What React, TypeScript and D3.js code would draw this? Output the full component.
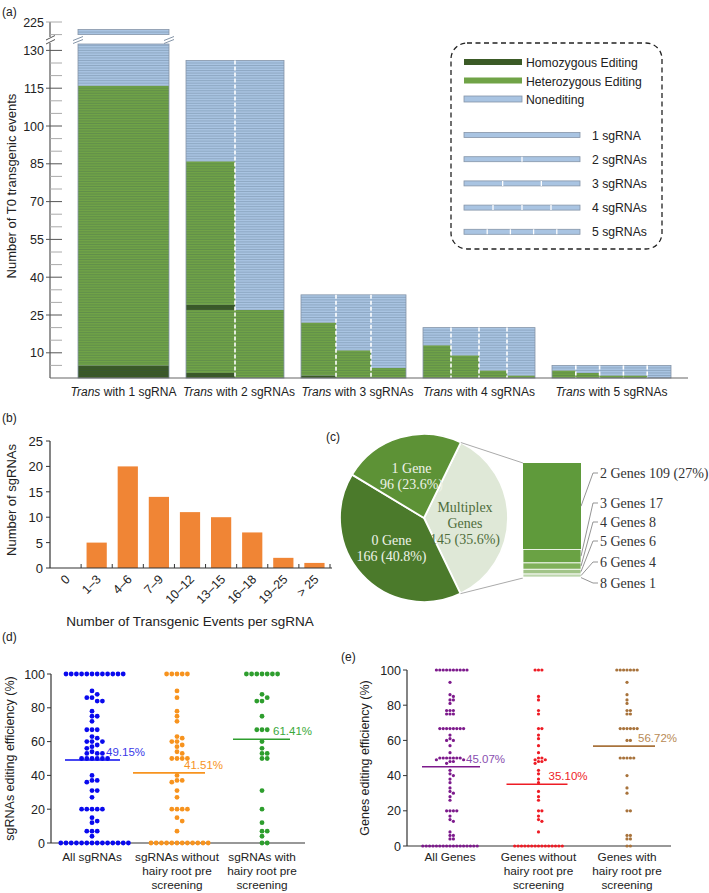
import React from "react";
import * as d3 from "d3";

const FONT = "'Liberation Sans', Arial, Helvetica, sans-serif";
const SERIF = "'Liberation Serif', 'Times New Roman', serif";

// ---------------- Panel (a) data ----------------
const aGroups = ["1 sgRNA", "2 sgRNAs", "3 sgRNAs", "4 sgRNAs", "5 sgRNAs"];
const aSgCount = [1, 2, 3, 4, 5];
const trans1: [string, number][][] = [[["Homozygous", 5], ["Heterozygous", 111], ["Nonediting", 106]]];
const trans2: [string, number][][] = [
  [["Homozygous", 2], ["Heterozygous", 25], ["Homozygous", 2], ["Heterozygous", 57], ["Nonediting", 40]],
  [["Heterozygous", 27], ["Nonediting", 99]],
];
const trans3: [string, number][][] = [
  [["Homozygous", 1], ["Heterozygous", 21], ["Nonediting", 11]],
  [["Heterozygous", 11], ["Nonediting", 22]],
  [["Heterozygous", 4], ["Nonediting", 29]],
];
const trans4: [string, number][][] = [
  [["Heterozygous", 13], ["Nonediting", 7]],
  [["Heterozygous", 9], ["Nonediting", 11]],
  [["Heterozygous", 3], ["Nonediting", 17]],
  [["Heterozygous", 1], ["Nonediting", 19]],
];
const trans5: [string, number][][] = [
  [["Heterozygous", 3], ["Nonediting", 2]],
  [["Heterozygous", 2], ["Nonediting", 3]],
  [["Heterozygous", 1], ["Nonediting", 4]],
  [["Heterozygous", 1], ["Nonediting", 4]],
  [["Nonediting", 5]],
];
const aYTicks = [10, 25, 40, 55, 70, 85, 100, 115, 130];
const aTopTicks = [225];
const aLegend = ["Homozygous  Editing", "Heterozygous Editing", "Nonediting"];
const aLegendTypes = ["Homozygous", "Heterozygous", "Nonediting"];
const aLegendSg = ["1 sgRNA", "2 sgRNAs", "3 sgRNAs", "4 sgRNAs", "5 sgRNAs"];

// ---------------- Panel (b) data ----------------
const bCategories = ["0", "1–3", "4–6", "7–9", "10–12", "13–15", "16–18", "19–25", "> 25"];
const bCounts = [0, 5, 20, 14, 11, 10, 7, 2, 1];
const bYTicks = [0, 5, 10, 15, 20, 25];

// ---------------- Panel (c) data ----------------
const cSlices = ["Multiplex Genes", "0 Gene", "1 Gene"];
const cValues = [145, 166, 96];
const cPercents = ["35.6%", "40.8%", "23.6%"];
const cMultiLabels = ["2 Genes", "3 Genes", "4 Genes", "5 Genes", "6 Genes", "8 Genes"];
const cMultiValues = [109, 17, 8, 6, 4, 1];
const cMultiNotes = [" (27%)", "", "", "", "", ""];

// ---------------- Panel (d) data ----------------
const dGroups = ["All sgRNAs", "sgRNAs without hairy root pre screening", "sgRNAs with hairy root pre screening"];
const dWithout = [100, 100, 100, 100, 100, 90, 86, 78, 75, 72, 63, 62, 60, 60, 58, 57, 54, 53, 50, 50, 50, 50, 40, 37, 37, 36, 31, 27, 20, 20, 20, 20, 15, 13, 7, 0, 0, 0, 0, 0, 0, 0, 0, 0, 0, 0, 0];
const dWith = [100, 100, 100, 100, 100, 100, 100, 88, 86, 84, 84, 75, 67, 67, 67, 60, 56, 53, 53, 50, 50, 31, 20, 12, 7, 7, 4, 0, 0];
const dMeans = [49.15, 41.51, 61.41];

// ---------------- Panel (e) data ----------------
const eGroups = ["All Genes", "Genes without hairy root pre screening", "Genes with hairy root pre screening"];
const eWithout = [100, 100, 100, 85, 83, 77, 75, 66.7, 66.7, 63, 61, 57, 53, 50, 50, 49, 49, 48, 48, 47, 43, 41, 38, 36, 31, 28, 26, 20, 20, 17, 15, 14, 8, 0, 0, 0, 0, 0, 0, 0, 0, 0, 0, 0, 0, 0, 0, 0];
const eWith = [100, 100, 100, 100, 100, 100, 100, 93, 86, 83, 81, 77, 77, 75, 75, 66.7, 66.7, 66.7, 66.7, 66.7, 66.7, 60, 60, 50, 50, 50, 50, 50, 40, 33, 30, 20, 20, 6, 6, 4, 4, 0, 0];
const eMeans = [45.07, 35.1, 56.72];
const yPctTicks = [0, 20, 40, 60, 80, 100];

// ---------------- styles ----------------
const typeFill: Record<string, string> = {
  Homozygous: "#3b5a26",
  Heterozygous: "#70a347",
  Nonediting: "#a9c4e2",
};
const dColors = ["#0a0aee", "#f7931e", "#2e9e2e"];
const dTextColors = ["#3a3ae8", "#f7931e", "#3aa83a"];
const eColors = ["#7d1a8c", "#ee1c25", "#a8733c"];
const eTextColors = ["#8a4fb0", "#ee1c25", "#b88a55"];

function swarm(values: number[], y: (v: number) => number, cx: number, step: number) {
  const placed: { x: number; y: number }[] = [];
  const sorted = [...values].sort((a, b) => b - a);
  for (const v of sorted) {
    const yy = y(v);
    for (let i = 0; i < 400; i++) {
      const off = i === 0 ? 0 : (i % 2 === 1 ? 1 : -1) * Math.ceil(i / 2) * (step / 2);
      const xx = cx + off;
      if (placed.every((p) => (p.x - xx) ** 2 + (p.y - yy) ** 2 >= (step * 0.97) ** 2)) {
        placed.push({ x: xx, y: yy });
        break;
      }
    }
  }
  return placed;
}

function PanelA() {
  const y = d3.scaleLinear().domain([0, 130]).range([378, 50.4]);
  const yTop = d3.scaleLinear().domain([220, 225]).range([34.6, 22]);
  const breakLow = y.invert(44);
  const topStart = 220;
  const widthScale = d3.scaleLinear().domain([1, 5]).range([91, 119]);
  const gap = 17;
  const bars = [trans1, trans2, trans3, trans4, trans5];
  let cursor = 78;
  const layout = bars.map((cols, i) => {
    const w = widthScale(aSgCount[i]);
    const r = { x: cursor, w, cols, total: d3.sum(cols[0], (s) => s[1]) };
    cursor += w + gap;
    return r;
  });
  const pieces = (v0: number, v1: number) => {
    const out: [number, number][] = [];
    if (v0 < breakLow) out.push([y(Math.min(v1, breakLow)), y(v0)]);
    if (v1 > topStart) out.push([yTop(v1), yTop(Math.max(v0, topStart))]);
    return out;
  };
  const stripeY = (k: number) => (k < breakLow ? y(k) : k > topStart ? yTop(k) : null);

  const minorTicks = d3.range(5, 131, 5);
  const els: React.ReactNode[] = [];

  layout.forEach((b, bi) => {
    const n = b.cols.length;
    const cw = b.w / n;
    b.cols.forEach((col, ci) => {
      const cx = b.x + ci * cw;
      let acc = 0;
      col.forEach((seg, si) => {
        const v0 = acc;
        const v1 = acc + seg[1];
        acc = v1;
        pieces(v0, v1).forEach((p, pi) => {
          els.push(
            <rect key={`s${bi}-${ci}-${si}-${pi}`} x={cx} y={p[0]} width={cw} height={p[1] - p[0]} fill={typeFill[seg[0]]} />
          );
        });
      });
      for (let k = 1; k < acc; k++) {
        const yy = stripeY(k);
        if (yy === null) continue;
        els.push(
          <line key={`st${bi}-${ci}-${k}`} x1={cx} x2={cx + cw} y1={yy} y2={yy} stroke="rgba(50,70,90,0.32)" strokeWidth={0.7} />
        );
      }
    });
    pieces(0, b.total).forEach((p, pi) => {
      els.push(
        <rect key={`o${bi}-${pi}`} x={b.x} y={p[0]} width={b.w} height={p[1] - p[0]} fill="none" stroke="#8595a8" strokeWidth={0.8} />
      );
    });
    for (let j = 1; j < n; j++) {
      const xx = b.x + j * cw;
      els.push(
        <line key={`dv${bi}-${j}`} x1={xx} x2={xx} y1={y(b.total)} y2={y(0)} stroke="#fff" strokeWidth={1.6} strokeDasharray="4,2" />
      );
    }
  });

  const b1 = layout[0];
  return (
    <g fontFamily={FONT}>
      <text x={2} y={16} fontSize={12} fill="#222">(a)</text>
      <line x1={50} x2={50} y1={22} y2={37} stroke="#555" strokeWidth={1.2} />
      <line x1={50} x2={50} y1={43} y2={378} stroke="#555" strokeWidth={1.2} />
      <line x1={46} x2={55} y1={40} y2={35.5} stroke="#555" strokeWidth={1} />
      <line x1={46} x2={55} y1={44} y2={39.5} stroke="#555" strokeWidth={1} />
      {minorTicks.map((t) => (
        <line key={`mt${t}`} x1={aYTicks.includes(t) ? 46 : 50} x2={62} y1={y(t)} y2={y(t)} stroke={aYTicks.includes(t) ? "#555" : "#aaa"} strokeWidth={1} />
      ))}
      <line x1={50} x2={62} y1={yTop(220)} y2={yTop(220)} stroke="#aaa" strokeWidth={1} />
      {aTopTicks.map((t) => (
        <line key={`tt${t}`} x1={46} x2={62} y1={yTop(t)} y2={yTop(t)} stroke="#aaa" strokeWidth={1} />
      ))}
      {aYTicks.map((t) => (
        <text key={`yl${t}`} x={44} y={y(t) + 4.5} fontSize={12.5} textAnchor="end" fill="#222">{t}</text>
      ))}
      {aTopTicks.map((t) => (
        <text key={`ytl${t}`} x={44} y={yTop(t) + 4.5} fontSize={12.5} textAnchor="end" fill="#222">{t}</text>
      ))}
      <text transform={`translate(16,186) rotate(-90)`} fontSize={13} textAnchor="middle" fill="#222">Number of T0 transgenic events</text>
      {els}
      {[b1.x, b1.x + b1.w].map((bx, i) => (
        <g key={`bk${i}`}>
          <line x1={bx - 5} x2={bx + 5} y1={40.5} y2={36.5} stroke="#8595a8" strokeWidth={1} />
          <line x1={bx - 5} x2={bx + 5} y1={43.5} y2={39.5} stroke="#8595a8" strokeWidth={1} />
        </g>
      ))}
      <line x1={50} x2={688} y1={378} y2={378} stroke="#666" strokeWidth={1.2} />
      {layout.map((b, i) => (
        <text key={`xl${i}`} x={b.x + b.w / 2 + (i === 1 || i === 2 ? 4 : 0)} y={396} fontSize={12} textAnchor="middle" fill="#222">
          <tspan fontStyle="italic">Trans</tspan> with {aGroups[i]}
        </text>
      ))}
      <rect x={451} y={43} width={211} height={206} rx={16} ry={16} fill="none" stroke="#222" strokeWidth={1.3} strokeDasharray="5,3.5" />
      {aLegend.map((l, i) => (
        <g key={`lg${i}`}>
          <rect x={464} y={59 + i * 18.5} width={58} height={6} fill={typeFill[aLegendTypes[i]]} stroke={i === 2 ? "#8595a8" : "none"} strokeWidth={0.8} />
          <text x={526} y={67 + i * 18.5} fontSize={12.2} fill="#222">{l}</text>
        </g>
      ))}
      {aLegendSg.map((l, i) => (
        <g key={`ls${i}`}>
          <rect x={464} y={132.5 + i * 24.2} width={116} height={5} fill="#a9c4e2" stroke="#8595a8" strokeWidth={0.8} />
          {d3.range(1, i + 1).map((j) => (
            <line key={j} x1={464 + (j * 116) / (i + 1)} x2={464 + (j * 116) / (i + 1)} y1={132.5 + i * 24.2} y2={137.5 + i * 24.2} stroke="#fff" strokeWidth={1.3} />
          ))}
          <text x={592} y={139.5 + i * 24.2} fontSize={12.2} fill="#222">{l}</text>
        </g>
      ))}
    </g>
  );
}

function PanelB() {
  const y = d3.scaleLinear().domain([0, 25]).range([568, 441]);
  const x = d3.scaleBand<string>().domain(bCategories).range([50, 330]).paddingInner(0.35).paddingOuter(0.175);
  const step = x.step();
  return (
    <g fontFamily={FONT}>
      <text x={2} y={422} fontSize={12} fill="#222">(b)</text>
      {bCategories.map((c, i) => (
        <rect key={c} x={x(c)!} y={y(bCounts[i])} width={x.bandwidth()} height={y(0) - y(bCounts[i])} fill="#f08535" />
      ))}
      <line x1={50} x2={50} y1={441} y2={568} stroke="#333" strokeWidth={1.2} />
      <line x1={50} x2={332} y1={568} y2={568} stroke="#333" strokeWidth={1.2} />
      {bYTicks.map((t) => (
        <g key={t}>
          <line x1={46} x2={50} y1={y(t)} y2={y(t)} stroke="#333" strokeWidth={1} />
          <text x={43} y={y(t) + 5} fontSize={13} textAnchor="end" fill="#222">{t}</text>
        </g>
      ))}
      {bCategories.map((c, i) => (
        <line key={`bt${i}`} x1={50 + step * (i + 1)} x2={50 + step * (i + 1)} y1={568} y2={564} stroke="#333" strokeWidth={1} />
      ))}
      {bCategories.map((c) => {
        const cx = x(c)! + x.bandwidth() / 2;
        return (
          <text key={`xl${c}`} transform={`translate(${cx + 5},${580}) rotate(-45)`} fontSize={12.5} textAnchor="end" fill="#222">{c}</text>
        );
      })}
      <text x={190} y={626} fontSize={13.5} textAnchor="middle" fill="#222">Number of Transgenic Events per sgRNA</text>
      <text transform={`translate(16,500) rotate(-90)`} fontSize={13} textAnchor="middle" fill="#222">Number of sgRNAs</text>
    </g>
  );
}

function PanelC() {
  const cx = 424, cy = 518, r = 84;
  const start = (26 * Math.PI) / 180;
  const pie = d3.pie<number>().sort(null).startAngle(start).endAngle(start + 2 * Math.PI);
  const arcs = pie(cValues);
  const arc = d3.arc<d3.PieArcDatum<number>>().innerRadius(0).outerRadius(r);
  const labelArc = d3.arc<d3.PieArcDatum<number>>().innerRadius(44).outerRadius(44);
  const sliceColors = ["#dfe8d7", "#4b7a2b", "#5d9236"];
  const textColors = ["#4f6e3c", "#eef3e8", "#eef3e8"];
  const stackY = d3.scaleLinear().domain([0, d3.sum(cMultiValues)]).range([463, 578]);
  const stackColors = ["#5f9a3b", "#6aa244", "#80b05a", "#a1c488", "#bdd6ad", "#d8e7ce"];
  const labelY = [473, 503, 522, 541, 562, 583];
  let acc = 0;
  const segs = cMultiValues.map((v) => {
    const s = { y0: stackY(acc), y1: stackY(acc + v) };
    acc += v;
    return s;
  });
  const p1 = [cx + r * Math.sin(start), cy - r * Math.cos(start)];
  const endA = arcs[0].endAngle;
  const p2 = [cx + r * Math.sin(endA), cy - r * Math.cos(endA)];
  return (
    <g>
      <text x={326} y={441} fontSize={12} fontFamily={FONT} fill="#222">(c)</text>
      <g transform={`translate(${cx},${cy})`}>
        {arcs.map((a, i) => (
          <path key={i} d={arc(a)!} fill={sliceColors[i]} stroke="#fff" strokeWidth={1.8} />
        ))}
        {arcs.map((a, i) => {
          const [lx, ly] = labelArc.centroid(a);
          const lines = i === 0 ? ["Multiplex", "Genes", `${cValues[i]} (${cPercents[i]})`] : [cSlices[i], `${cValues[i]} (${cPercents[i]})`];
          const h = 16;
          return (
            <text key={`t${i}`} fontFamily={SERIF} fontSize={14} fill={textColors[i]} textAnchor="middle">
              {lines.map((l, j) => (
                <tspan key={j} x={lx - (i === 0 ? 3 : 0)} y={ly + (j - (lines.length - 1) / 2) * h + 5 + (i === 0 ? 5 : 0)}>{l}</tspan>
              ))}
            </text>
          );
        })}
      </g>
      <line x1={p1[0]} y1={p1[1]} x2={523} y2={463} stroke="#aaa" strokeWidth={1} />
      <line x1={p2[0]} y1={p2[1]} x2={523} y2={578} stroke="#aaa" strokeWidth={1} />
      {segs.map((s, i) => (
        <rect key={`sg${i}`} x={523} y={s.y0} width={58} height={s.y1 - s.y0} fill={stackColors[i]} stroke="#fff" strokeWidth={i === 0 ? 0 : 0.8} />
      ))}
      {segs.map((s, i) => {
        const my = (s.y0 + s.y1) / 2;
        return (
          <g key={`ll${i}`}>
            <polyline points={`581,${my} 593,${labelY[i]} 598,${labelY[i]}`} fill="none" stroke="#888" strokeWidth={0.9} />
            <text x={600} y={labelY[i] + 5} fontFamily={SERIF} fontSize={14} fill="#333">{`${cMultiLabels[i]} ${cMultiValues[i]}${cMultiNotes[i]}`}</text>
          </g>
        );
      })}
    </g>
  );
}

function DotPanel(props: {
  label: string; labelX: number; labelY: number;
  axisX: number; xEnd: number; yTop: number; yBottom: number;
  centers: number[]; groups: string[]; series: number[][]; means: number[];
  colors: string[]; textColors: string[]; step: number; radius: number;
  title: string; titleX: number; lineLeft: number[]; lineRight: number[];
  labelOffsets: number[]; catOffset: number;
}) {
  const p = props;
  const y = d3.scaleLinear().domain([0, 100]).range([p.yBottom, p.yTop]);
  const x = d3.scalePoint<string>().domain(p.groups).range([p.centers[0], p.centers[2]]);
  const wrap = (g: string) => {
    if (g.startsWith("All")) return [g];
    const idx = g.indexOf(" hairy");
    return [g.slice(0, idx), "hairy root pre", "screening"];
  };
  return (
    <g fontFamily={FONT}>
      <text x={p.labelX} y={p.labelY} fontSize={12} fill="#222">{p.label}</text>
      <line x1={p.axisX} x2={p.axisX} y1={p.yTop} y2={p.yBottom} stroke="#333" strokeWidth={1.2} />
      <line x1={p.axisX} x2={p.xEnd} y1={p.yBottom} y2={p.yBottom} stroke="#333" strokeWidth={1.2} />
      {yPctTicks.map((t) => (
        <g key={t}>
          <line x1={p.axisX - 4} x2={p.axisX} y1={y(t)} y2={y(t)} stroke="#333" strokeWidth={1} />
          <text x={p.axisX - 6} y={y(t) + 4.5} fontSize={12.5} textAnchor="end" fill="#222">{t}</text>
        </g>
      ))}
      <text transform={`translate(${p.titleX},${(p.yTop + p.yBottom) / 2}) rotate(-90)`} fontSize={12.5} textAnchor="middle" fill="#222">{p.title}</text>
      {p.groups.map((g, gi) => {
        const cx = x(g)!;
        const pts = swarm(p.series[gi], y, cx, p.step);
        const my = y(p.means[gi]);
        return (
          <g key={g}>
            {pts.map((pt, k) => (
              <circle key={k} cx={pt.x} cy={pt.y} r={p.radius} fill={p.colors[gi]} />
            ))}
            <line x1={cx - p.lineLeft[gi]} x2={cx + p.lineRight[gi]} y1={my} y2={my} stroke={p.colors[gi]} strokeWidth={1.6} />
            <text x={cx + p.labelOffsets[gi]} y={my - 4} fontSize={11.5} fill={p.textColors[gi]}>{p.means[gi].toFixed(2)}%</text>
            <text textAnchor="middle" fontSize={11.8} fill="#222">
              {wrap(g).map((l, j) => (
                <tspan key={j} x={cx} y={p.yBottom + p.catOffset + j * 14}>{l}</tspan>
              ))}
            </text>
          </g>
        );
      })}
    </g>
  );
}

export default function App() {
  return (
    <svg width={709} height={893} viewBox="0 0 709 893" style={{ position: "absolute", left: 0, top: 0, background: "#fff" }}>
      <rect x={0} y={0} width={709} height={893} fill="#fff" />
      <PanelA />
      <PanelB />
      <PanelC />
      <DotPanel
        label="(d)" labelX={2} labelY={641}
        axisX={51} xEnd={305} yTop={674} yBottom={843}
        centers={[92, 177, 262]} groups={dGroups}
        series={[[...dWithout, ...dWith], dWithout, dWith]} means={dMeans}
        colors={dColors} textColors={dTextColors} step={5.2} radius={2.4}
        title="sgRNAs editing efficiency (%)" titleX={14}
        lineLeft={[27, 44, 29]} lineRight={[28, 28, 28]}
        labelOffsets={[14, 7, 11]} catOffset={18}
      />
      <DotPanel
        label="(e)" labelX={341} labelY={661}
        axisX={407} xEnd={671} yTop={670} yBottom={846}
        centers={[450, 539, 627]} groups={eGroups}
        series={[[...eWithout, ...eWith], eWithout, eWith]} means={eMeans}
        colors={eColors} textColors={eTextColors} step={3.4} radius={1.6}
        title="Genes editing efficiency (%)" titleX={369}
        lineLeft={[28, 32, 34]} lineRight={[30, 29, 28]}
        labelOffsets={[16, 10, 11]} catOffset={15}
      />
    </svg>
  );
}
